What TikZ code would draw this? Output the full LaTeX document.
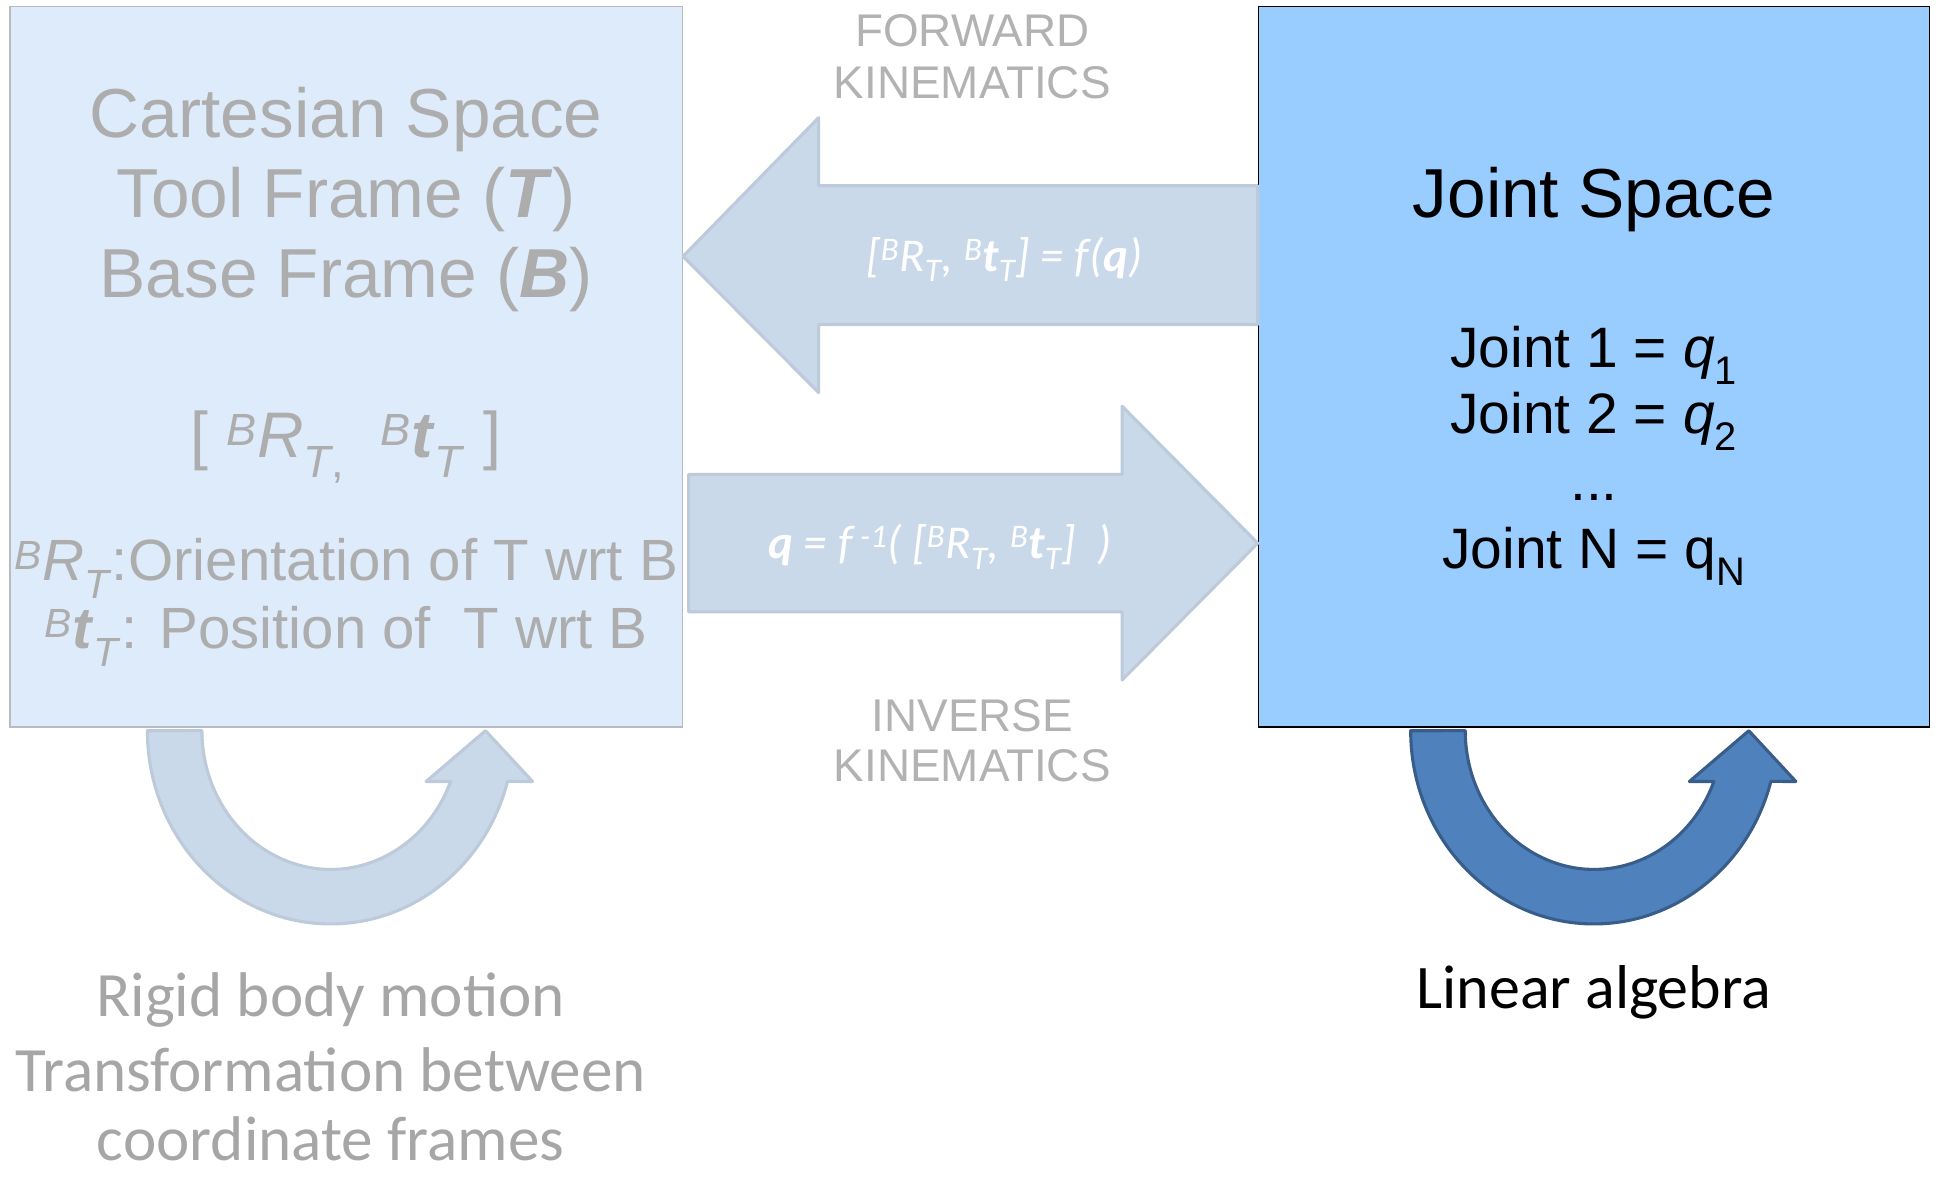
\documentclass[tikz,border=0pt]{standalone}
\usepackage{fontspec}
\setmainfont{Liberation Sans}
\newfontfamily\calibri{Carlito}
\definecolor{cartfill}{HTML}{DDEBFB}
\definecolor{cartdraw}{HTML}{B8BCC2}
\definecolor{jointfill}{HTML}{99CCFF}
\definecolor{arrfill}{HTML}{C9D9EA}
\definecolor{arrdraw}{HTML}{BCCADA}
\definecolor{darkfill}{HTML}{4F81BD}
\definecolor{darkdraw}{HTML}{385D8A}
\definecolor{ltext}{HTML}{ADADAD}
\definecolor{ktext}{HTML}{B2B2B2}
\definecolor{btext}{HTML}{A6A6A6}
\newcommand\SP[1]{\textsuperscript{#1}}
\newcommand\SB[1]{\textsubscript{#1}}
\newcommand\fs[1]{\fontsize{#1}{#1}\selectfont}
\newcommand\uturnshape[1]{%
  \draw[#1] (-148,0) arc[start angle=180,end angle=15.2,x radius=148,y radius=156]
      -- (163,41) -- (125,0) -- (77,41) -- (96.8,41)
      arc[start angle=21.5,end angle=180,x radius=104,y radius=112] -- cycle;}
\begin{document}
\begin{tikzpicture}[x=1pt,y=1pt,yscale=-1,
  cartbox/.style={draw=cartdraw,line width=1pt,fill=cartfill,inner sep=0pt},
  jointbox/.style={draw=black,line width=1pt,fill=jointfill,inner sep=0pt},
  bigarrow/.style={draw=arrdraw,fill=arrfill,line width=2.5pt,line join=round},
  lightturn/.style={draw=arrdraw,fill=arrfill,line width=2.5pt,line join=round},
  darkturn/.style={draw=darkdraw,fill=darkfill,line width=2.5pt,line join=round},
  lt/.style={text=ltext,anchor=base,inner sep=0pt},
  kt/.style={text=ktext,anchor=base,inner sep=0pt,font={\fs{37}}},
  jt/.style={text=black,anchor=base,inner sep=0pt},
  bt/.style={text=btext,anchor=base,inner sep=0pt,font={\calibri\fs{51}}},
  ftext/.style={text=white,anchor=base,inner sep=0pt,font={\calibri\itshape\fs{38}}}]
\useasboundingbox (0,0) rectangle (1568,950);

% boxes
\node[cartbox,minimum width=543pt,minimum height=582pt] (cart) at (279.5,296) {};
\node[jointbox,minimum width=542pt,minimum height=582pt] (joint) at (1287,296) {};

% big arrows
\draw[bigarrow] (cart.east |- 0,207) coordinate (ftip) -- (661,95) -- (661,150)
  -- (joint.west |- 0,150) -- (joint.west |- 0,262) -- (661,262) -- (661,317) -- cycle;
\draw[bigarrow] (556,383) -- (906,383) -- (906,328) -- (joint.west |- 0,438.6) coordinate (itip)
  -- (906,549) -- (906,494) -- (556,494) -- cycle;

\node[ftext] (ff) at (811,219) {[\SP{B}R\SB{T}, \SP{B}\textbf{t}\SB{T}] = f(\textbf{q})};
\node[ftext] (fi) at (759,451) {\textbf{q} = f\,\SP{-1}( [\SP{B}R\SB{T}, \SP{B}\textbf{t}\SB{T}]\ \ )};

% kinematics labels
\node[kt] (fw1) at (785,37.7) {FORWARD};
\node[kt] (fw2) at (785,79.4) {KINEMATICS};
\node[kt] (iv1) at (785,590.8) {INVERSE};
\node[kt] (iv2) at (785,631) {KINEMATICS};

% cartesian texts
\node[lt,font={\fs{56}}] (c1) at (279.5,111) {Cartesian Space};
\node[lt,font={\fs{56}}] (c2) at (279.5,176) {Tool Frame (\textbf{\textit{T}})};
\node[lt,font={\fs{56}}] (c3) at (279.5,240) {Base Frame (\textbf{\textit{B}})};
\node[lt,font={\fs{52}}] (c4) at (279.5,369) {[ \SP{\textit{B}}\textit{R}\SB{\textit{T},}\ \ \SP{\textit{B}}\textbf{\textit{t}}\SB{\textit{T}} ]};
\node[lt,font={\fs{47}}] (c5) at (279.5,469) {\SP{\textit{B}}\textit{R}\SB{\textit{T}}:Orientation of T wrt B};
\node[lt,font={\fs{47}}] (c6) at (279.5,524) {\SP{\textit{B}}\textbf{\textit{t}}\SB{\textit{T}}: Position of\ \ T wrt B};

% joint texts
\node[jt,font={\fs{56}}] (j0) at (1287,176) {Joint Space};
\node[jt,font={\fs{46}}] (j1) at (1287,296.5) {Joint 1 = \textit{q}\SB{1}};
\node[jt,font={\fs{46}}] (j2) at (1287,349.8) {Joint 2 = \textit{q}\SB{2}};
\node[jt,font={\fs{46}}] (j3) at (1287,404) {...};
\node[jt,font={\fs{46}}] (j4) at (1287,459) {Joint N = q\SB{N}};

% curved arrows
\begin{scope}[shift={(267,590)}]
  \uturnshape{lightturn}
\end{scope}
\begin{scope}[shift={(1287,590)}]
  \uturnshape{darkturn}
\end{scope}

% bottom labels
\node[bt] (r1) at (267,821) {Rigid body motion};
\node[bt] (r2) at (267,881) {Transformation between};
\node[bt] (r3) at (267,937) {coordinate frames};
\node[jt,font={\calibri\fs{50}}] (la) at (1287,814) {Linear algebra};
\end{tikzpicture}
\end{document}
